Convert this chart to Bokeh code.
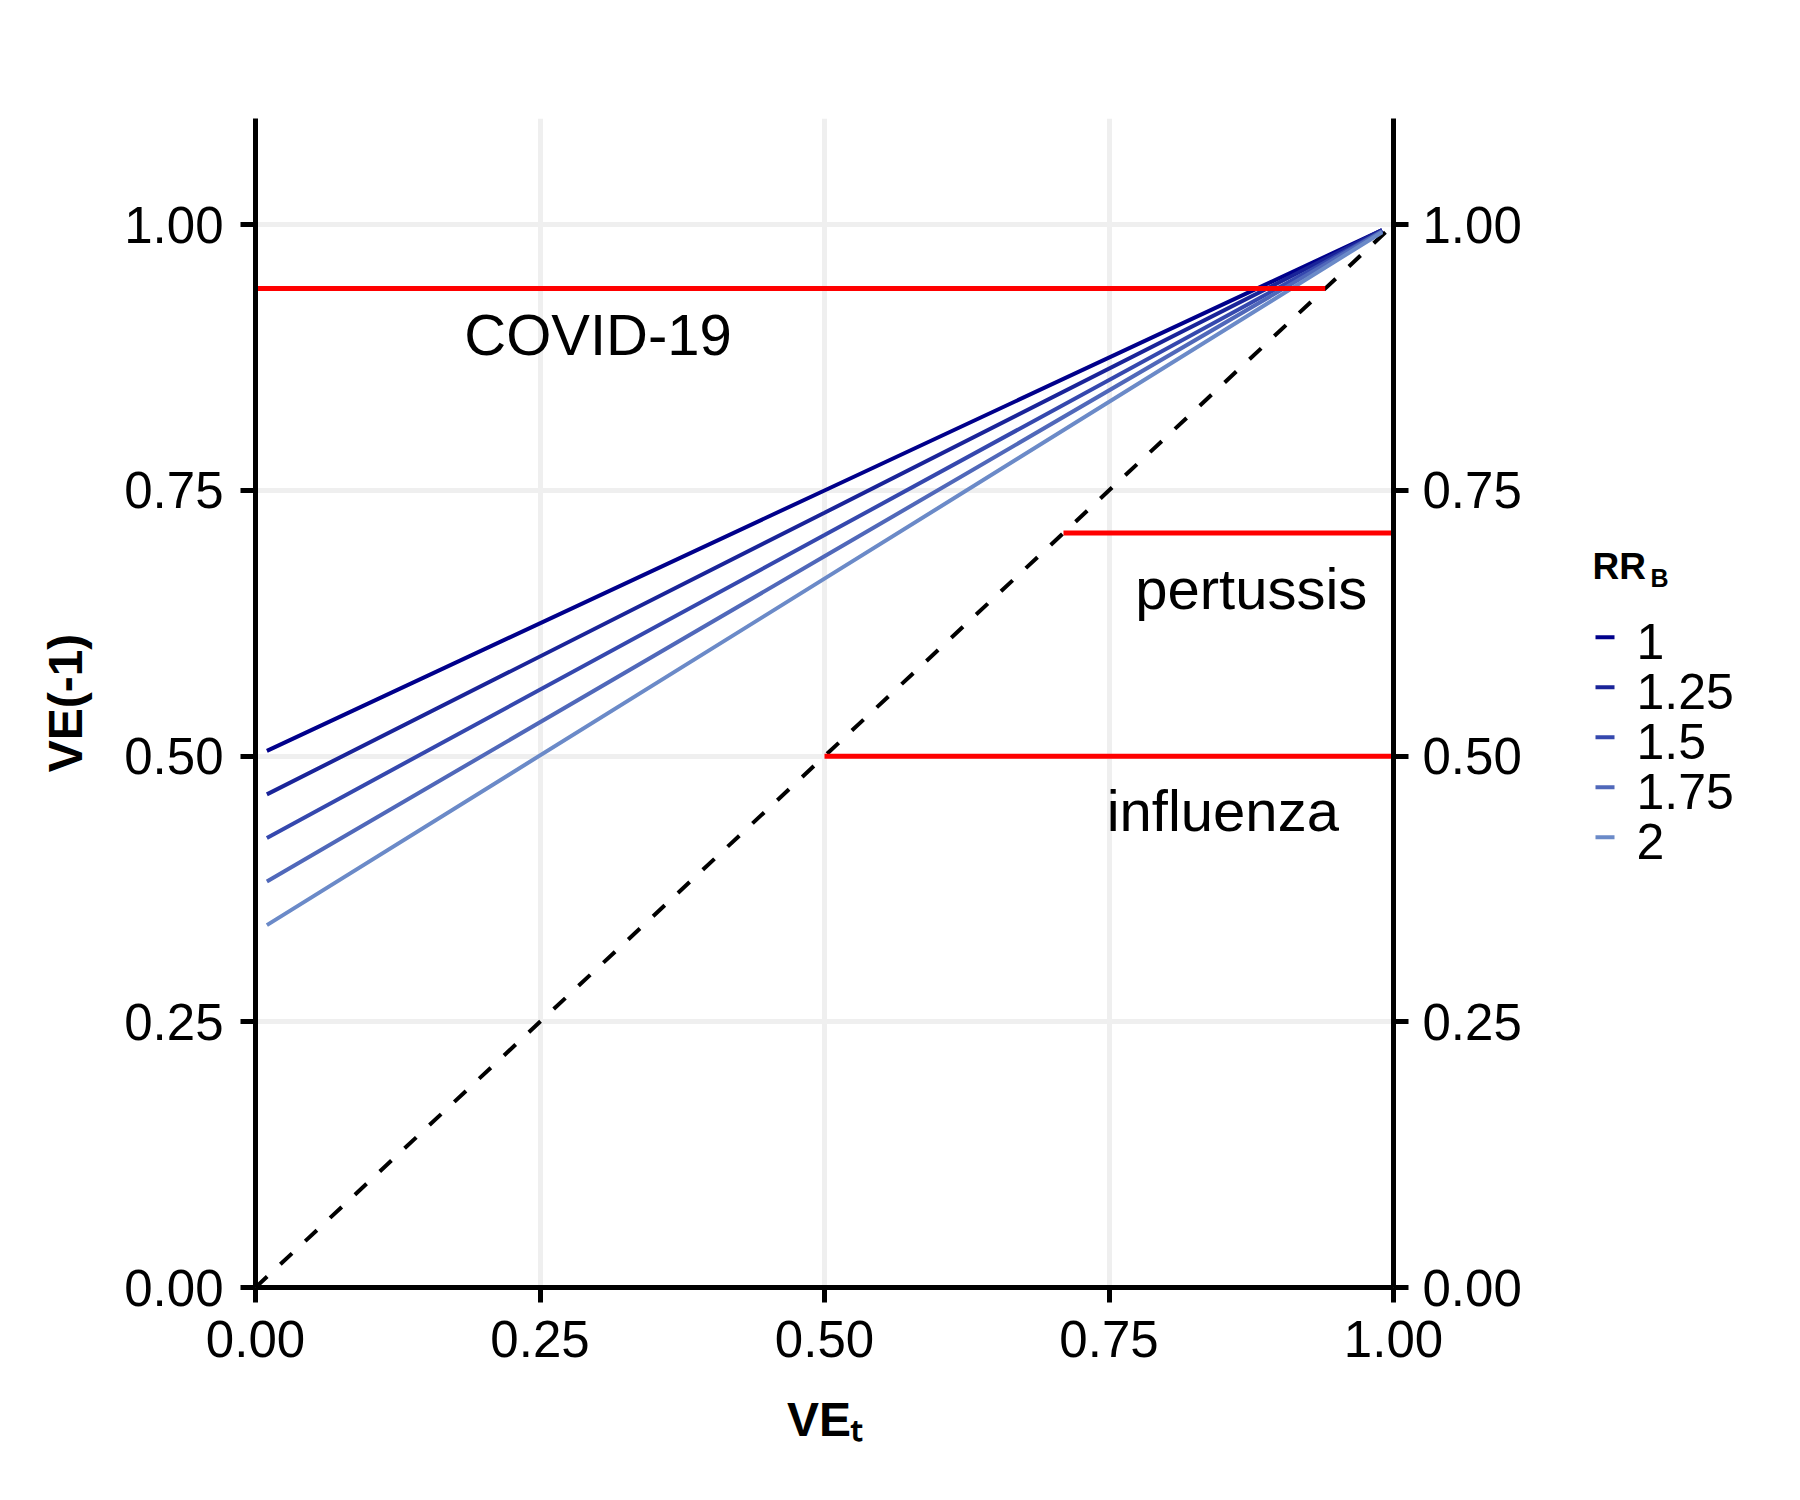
from bokeh.plotting import figure
from bokeh.layouts import row
from bokeh.models import (Range1d, LinearAxis, FixedTicker, PrintfTickFormatter,
                          ColumnDataSource)
from bokeh.core.properties import value
from bokeh.embed import file_html
from bokeh.resources import INLINE

# ---------------- data ----------------
ve_t = [0.01, 0.50, 0.99]
rr_labels = ["1", "1.25", "1.5", "1.75", "2"]
ve_rr_1_00 = [0.505, 0.750, 0.995]
ve_rr_1_25 = [0.464, 0.729, 0.995]
ve_rr_1_50 = [0.423, 0.708, 0.994]
ve_rr_1_75 = [0.382, 0.688, 0.994]
ve_rr_2_00 = [0.341, 0.667, 0.993]
rr_series = [ve_rr_1_00, ve_rr_1_25, ve_rr_1_50, ve_rr_1_75, ve_rr_2_00]
rr_colors = ["#00008B", "#1A2499", "#3548AE", "#5068BA", "#6B8AC8"]

ref_x = [0.0, 1.0]
ref_y = [0.0, 1.0]

diseases = ["COVID-19", "pertussis", "influenza"]
disease_ve = [0.94, 0.71, 0.50]
disease_x0 = [0.0, 0.71, 0.50]
disease_x1 = [0.94, 1.0, 1.0]
disease_label_x = [0.301, 0.875, 0.850]
disease_label_y = [0.880, 0.641, 0.432]

ticks = [0.0, 0.25, 0.5, 0.75, 1.0]

FONT = "Liberation Sans"
BASE_FIX = 0.31  # shift of Bokeh's alphabetic baseline, in em

TOP, BOTTOM, HEIGHT = 118, 197, 1484

# ---------------- main figure ----------------
p = figure(width=1560, height=HEIGHT,
           x_range=Range1d(0, 1), y_range=Range1d(0, 1.1),
           output_backend="svg", toolbar_location=None,
           min_border_left=255, min_border_right=167,
           min_border_top=TOP, min_border_bottom=BOTTOM)
p.outline_line_color = None
p.background_fill_color = "white"
p.border_fill_color = "white"

p.add_layout(LinearAxis(), "right")

for ax in p.xaxis + p.yaxis:
    ax.ticker = FixedTicker(ticks=ticks, minor_ticks=[])
    ax.formatter = PrintfTickFormatter(format="%.2f")
    ax.axis_line_width = 5
    ax.axis_line_color = "black"
    ax.major_tick_line_width = 5
    ax.major_tick_line_color = "black"
    ax.major_tick_in = 0
    ax.major_tick_out = 15
    ax.minor_tick_out = 0
    ax.minor_tick_in = 0
    ax.major_label_text_font = FONT
    ax.major_label_text_font_size = "51px"
    ax.major_label_text_color = "black"
    ax.axis_label_text_font = FONT
    ax.axis_label_text_font_size = "48px"
    ax.axis_label_text_font_style = "bold"
    ax.axis_label_text_color = "black"

p.xaxis[0].major_label_standoff = 18
p.yaxis[0].major_label_standoff = 17
p.yaxis[1].major_label_standoff = 14

p.xaxis[0].axis_label = "VE\u209c"
p.xaxis[0].axis_label_standoff = 33
p.yaxis[0].axis_label = "VE(-1)"
p.yaxis[0].axis_label_standoff = 29
p.yaxis[1].axis_label = None

for g in (p.xgrid, p.ygrid):
    g.ticker = FixedTicker(ticks=ticks, minor_ticks=[])
    g.grid_line_color = "#EFEFEF"
    g.grid_line_width = 5

# diagonal reference line
p.line(ref_x, ref_y, line_color="black", line_width=4, line_dash="16 18")

# RR_B curves
for ys, col in zip(rr_series, rr_colors):
    p.line(ve_t, ys, line_color=col, line_width=4)

# disease VE segments
seg_src = ColumnDataSource(dict(x0=disease_x0, x1=disease_x1, y=disease_ve))
p.segment(x0="x0", y0="y", x1="x1", y1="y", source=seg_src,
          line_color="#FF0000", line_width=5)

lab_src = ColumnDataSource(dict(x=disease_label_x, y=disease_label_y, t=diseases))
p.text(x="x", y="y", text="t", source=lab_src,
       text_font=value(FONT), text_font_size="58px", y_offset=-BASE_FIX * 58,
       text_align="center", text_baseline="alphabetic", text_color="black")

# ---------------- legend panel (pixel coordinates, y downward) ----------------
LW = 224
leg = figure(width=LW, height=HEIGHT, x_range=Range1d(0, LW),
             y_range=Range1d(HEIGHT - BOTTOM, TOP),
             x_axis_type=None, y_axis_type=None,
             output_backend="svg", toolbar_location=None,
             min_border_left=0, min_border_right=0,
             min_border_top=TOP, min_border_bottom=BOTTOM)
leg.outline_line_color = None
leg.grid.visible = False
leg.background_fill_color = "white"
leg.border_fill_color = "white"

row0, row_gap = 636.7, 50.0
row_y = [row0 + row_gap * i for i in range(len(rr_labels))]
leg_src = ColumnDataSource(dict(
    y=row_y, ty=[v + 19.5 for v in row_y], lab=rr_labels, col=rr_colors,
    x0=[35] * len(rr_labels), x1=[54] * len(rr_labels), tx=[76] * len(rr_labels)))
leg.segment(x0="x0", y0="y", x1="x1", y1="y", line_color="col", line_width=4,
            source=leg_src)
leg.text(x="tx", y="ty", text="lab", source=leg_src,
         text_font=value(FONT), text_font_size="50px", y_offset=-BASE_FIX * 50,
         text_align="left", text_baseline="alphabetic", text_color="black")
leg.text(x=[32], y=[577], text=["RR"],
         text_font=value(FONT), text_font_size="37px", text_font_style="bold",
         y_offset=-BASE_FIX * 37,
         text_align="left", text_baseline="alphabetic", text_color="black")
leg.text(x=[90], y=[585], text=["B"],
         text_font=value(FONT), text_font_size="25px", text_font_style="bold",
         y_offset=-BASE_FIX * 25,
         text_align="left", text_baseline="alphabetic", text_color="black")

layout = row(p, leg)
open("out.html", "w").write(file_html(layout, INLINE))
